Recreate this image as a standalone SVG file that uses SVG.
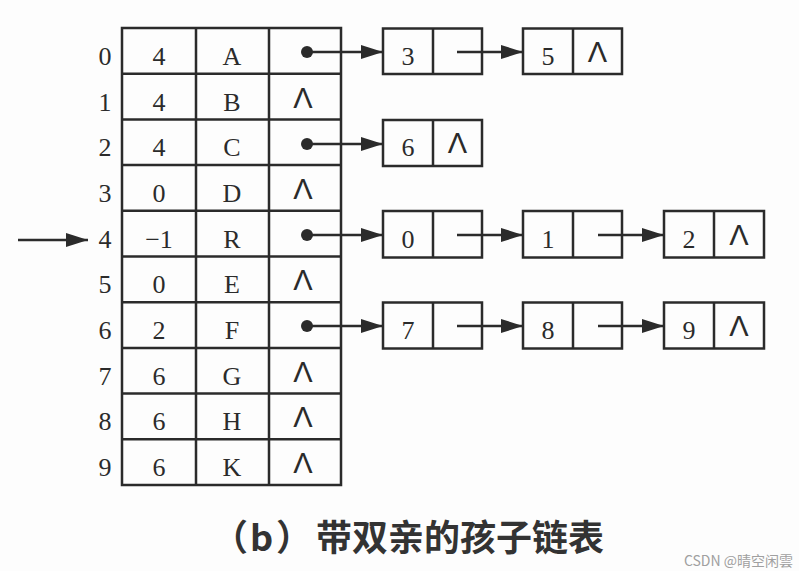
<svg xmlns="http://www.w3.org/2000/svg" width="799" height="571" viewBox="0 0 799 571">
<style>
.bg{fill:#fdfdfd}
.cell{fill:none;stroke:#2b2b2b;stroke-width:2.5}
.t{font-family:"Liberation Serif","Times New Roman",serif;font-size:26px;fill:#2b2b2b;text-anchor:middle}
.nil{font-family:"Liberation Sans",Arial,sans-serif;font-size:29px;fill:#2b2b2b;text-anchor:middle}
.ln{stroke:#2b2b2b;stroke-width:2.5;fill:none}
.dot{fill:#2b2b2b}
.cap{font-family:"Noto Sans CJK SC","Noto Sans",sans-serif;font-size:36px;font-weight:bold;fill:#333}
.wm{font-family:"Noto Sans CJK SC","Noto Sans",sans-serif;font-size:14px;fill:#a0a0a0}
</style>
<defs>
<marker id="ah" markerWidth="22" markerHeight="14" refX="22" refY="7" orient="auto" markerUnits="userSpaceOnUse">
<path d="M0,0 L22,7 L0,14 Z" fill="#2b2b2b"/>
</marker>
</defs>
<rect class="bg" x="0" y="0" width="799" height="571"/>

<g id="table">
<rect class="cell" x="122" y="28" width="219" height="457"/>
<line class="cell" x1="196" y1="28" x2="196" y2="485"/>
<line class="cell" x1="269" y1="28" x2="269" y2="485"/>
<line class="cell" x1="122" y1="73.7" x2="341" y2="73.7"/>
<line class="cell" x1="122" y1="119.4" x2="341" y2="119.4"/>
<line class="cell" x1="122" y1="165.1" x2="341" y2="165.1"/>
<line class="cell" x1="122" y1="210.8" x2="341" y2="210.8"/>
<line class="cell" x1="122" y1="256.5" x2="341" y2="256.5"/>
<line class="cell" x1="122" y1="302.2" x2="341" y2="302.2"/>
<line class="cell" x1="122" y1="347.9" x2="341" y2="347.9"/>
<line class="cell" x1="122" y1="393.6" x2="341" y2="393.6"/>
<line class="cell" x1="122" y1="439.3" x2="341" y2="439.3"/>
</g>

<g id="row0"><text class="t" x="105" y="65">0</text><text class="t" x="159" y="65">4</text><text class="t" x="232" y="65">A</text><circle class="dot" cx="307" cy="52" r="6"/></g>
<g id="row1"><text class="t" x="105" y="111">1</text><text class="t" x="159" y="111">4</text><text class="t" x="232" y="111">B</text><text class="nil" x="303" y="108">Λ</text></g>
<g id="row2"><text class="t" x="105" y="156">2</text><text class="t" x="159" y="156">4</text><text class="t" x="232" y="156">C</text><circle class="dot" cx="307" cy="144" r="6"/></g>
<g id="row3"><text class="t" x="105" y="202">3</text><text class="t" x="159" y="202">0</text><text class="t" x="232" y="202">D</text><text class="nil" x="303" y="199">Λ</text></g>
<g id="row4"><text class="t" x="105" y="248">4</text><text class="t" x="159" y="248">−1</text><text class="t" x="232" y="248">R</text><circle class="dot" cx="307" cy="235" r="6"/></g>
<g id="row5"><text class="t" x="105" y="293">5</text><text class="t" x="159" y="293">0</text><text class="t" x="232" y="293">E</text><text class="nil" x="303" y="290">Λ</text></g>
<g id="row6"><text class="t" x="105" y="339">6</text><text class="t" x="159" y="339">2</text><text class="t" x="232" y="339">F</text><circle class="dot" cx="307" cy="326" r="6"/></g>
<g id="row7"><text class="t" x="105" y="385">7</text><text class="t" x="159" y="385">6</text><text class="t" x="232" y="385">G</text><text class="nil" x="303" y="382">Λ</text></g>
<g id="row8"><text class="t" x="105" y="430">8</text><text class="t" x="159" y="430">6</text><text class="t" x="232" y="430">H</text><text class="nil" x="303" y="427">Λ</text></g>
<g id="row9"><text class="t" x="105" y="476">9</text><text class="t" x="159" y="476">6</text><text class="t" x="232" y="476">K</text><text class="nil" x="303" y="473">Λ</text></g>

<g id="n0a"><rect class="cell" x="383" y="28.5" width="99" height="45.5"/><line class="cell" x1="433" y1="28.5" x2="433" y2="74"/><text class="t" x="408" y="65">3</text></g>
<g id="n0b"><rect class="cell" x="523" y="28.5" width="99" height="45.5"/><line class="cell" x1="573" y1="28.5" x2="573" y2="74"/><text class="t" x="548" y="65">5</text><text class="nil" x="597.5" y="62">Λ</text></g>

<g id="n2a"><rect class="cell" x="383" y="120" width="99" height="46"/><line class="cell" x1="433" y1="120" x2="433" y2="166"/><text class="t" x="408" y="156">6</text><text class="nil" x="457.5" y="153">Λ</text></g>

<g id="n4a"><rect class="cell" x="383" y="211" width="99" height="46.5"/><line class="cell" x1="433" y1="211" x2="433" y2="257.5"/><text class="t" x="408" y="248">0</text></g>
<g id="n4b"><rect class="cell" x="523" y="211" width="99" height="46.5"/><line class="cell" x1="573" y1="211" x2="573" y2="257.5"/><text class="t" x="548" y="248">1</text></g>
<g id="n4c"><rect class="cell" x="664" y="211" width="100" height="46.5"/><line class="cell" x1="714" y1="211" x2="714" y2="257.5"/><text class="t" x="689" y="248">2</text><text class="nil" x="739" y="245">Λ</text></g>

<g id="n6a"><rect class="cell" x="383" y="302.5" width="99" height="46"/><line class="cell" x1="433" y1="302.5" x2="433" y2="348.5"/><text class="t" x="408" y="339">7</text></g>
<g id="n6b"><rect class="cell" x="523" y="302.5" width="99" height="46"/><line class="cell" x1="573" y1="302.5" x2="573" y2="348.5"/><text class="t" x="548" y="339">8</text></g>
<g id="n6c"><rect class="cell" x="664" y="302.5" width="100" height="46"/><line class="cell" x1="714" y1="302.5" x2="714" y2="348.5"/><text class="t" x="689" y="339">9</text><text class="nil" x="739" y="336">Λ</text></g>

<g id="connectors">
<line class="ln" x1="18" y1="240" x2="88" y2="240" marker-end="url(#ah)"/>
<line class="ln" x1="307" y1="52" x2="383" y2="52" marker-end="url(#ah)"/>
<line class="ln" x1="457" y1="52" x2="523" y2="52" marker-end="url(#ah)"/>
<line class="ln" x1="307" y1="144" x2="383" y2="144" marker-end="url(#ah)"/>
<line class="ln" x1="307" y1="235" x2="383" y2="235" marker-end="url(#ah)"/>
<line class="ln" x1="457" y1="235" x2="523" y2="235" marker-end="url(#ah)"/>
<line class="ln" x1="598" y1="235" x2="664" y2="235" marker-end="url(#ah)"/>
<line class="ln" x1="307" y1="326" x2="383" y2="326" marker-end="url(#ah)"/>
<line class="ln" x1="457" y1="326" x2="523" y2="326" marker-end="url(#ah)"/>
<line class="ln" x1="598" y1="326" x2="664" y2="326" marker-end="url(#ah)"/>
</g>

<text class="cap" y="551"><tspan x="212">（</tspan><tspan x="250">b</tspan><tspan x="276">）</tspan><tspan x="316">带双亲的孩子链表</tspan></text>
<text class="wm" x="793" y="566" text-anchor="end">CSDN @晴空闲雲</text>
</svg>
